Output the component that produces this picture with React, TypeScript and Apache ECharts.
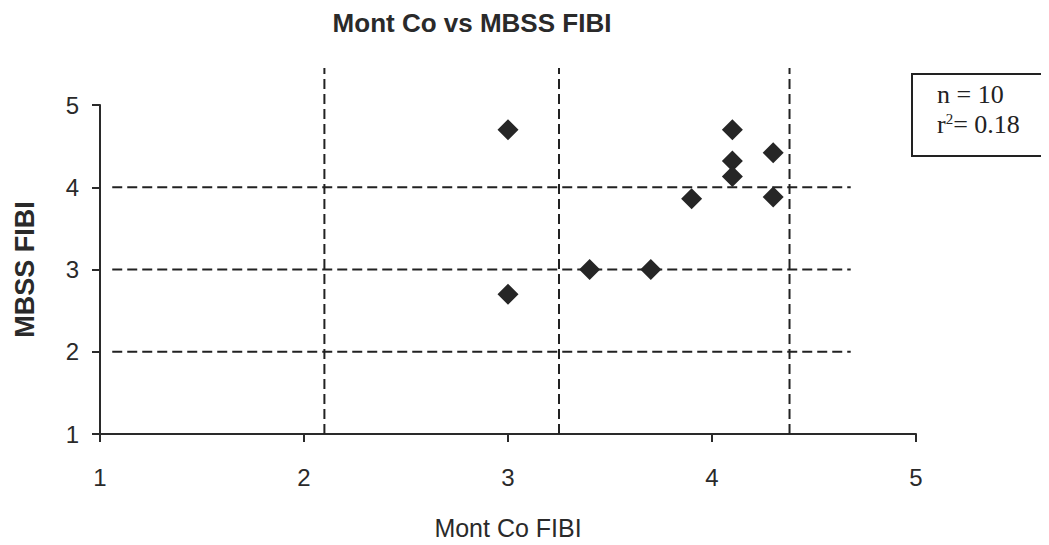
import React, { useEffect, useRef } from "react";
import * as echarts from "echarts";

const montCo = [3.0, 3.0, 3.4, 3.7, 3.9, 4.1, 4.1, 4.1, 4.3, 4.3];
const mbss = [4.7, 2.7, 3.0, 3.0, 3.86, 4.7, 4.32, 4.13, 4.42, 3.88];
const xTicks = [1, 2, 3, 4, 5];
const yTicks = [1, 2, 3, 4, 5];
const vLineX = [2.1, 3.25, 4.38];
const vLineSpan = [1, 5.45];
const hLineY = [2, 3, 4];
const hLineSpan = [1.06, 4.68];
const statN = "n = 10";
const statR2 = "0.18";

const SANS = "Arial, 'Liberation Sans', sans-serif";
const SERIF = "'Liberation Serif', 'Times New Roman', serif";

export default function App() {
  const ref = useRef<HTMLDivElement>(null);
  useEffect(() => {
    if (!ref.current) return;
    const chart = echarts.init(ref.current, undefined, { renderer: "svg" });
    const points = montCo.map((x, i) => [x, mbss[i]]);
    const dashStyle = { color: "#222", width: 2, type: [10, 5] as number[] };
    const lineSeries: any[] = [];
    vLineX.forEach((x) => {
      lineSeries.push({
        type: "line",
        data: [[x, vLineSpan[0]], [x, vLineSpan[1]]],
        symbol: "none",
        clip: false,
        lineStyle: dashStyle,
        z: 1,
        silent: true,
      });
    });
    hLineY.forEach((y) => {
      lineSeries.push({
        type: "line",
        data: [[hLineSpan[0], y], [hLineSpan[1], y]],
        symbol: "none",
        clip: false,
        lineStyle: dashStyle,
        z: 1,
        silent: true,
      });
    });
    chart.setOption({
      animation: false,
      backgroundColor: "#ffffff",
      title: {
        text: "Mont Co vs MBSS FIBI",
        left: 467,
        top: 5,
        textAlign: "center",
        textStyle: {
          fontFamily: SANS,
          fontWeight: "bold",
          fontSize: 26,
          color: "#2a2a2a",
        },
      },
      grid: { left: 100, right: 133, top: 105, bottom: 110 },
      xAxis: {
        type: "value",
        min: xTicks[0],
        max: xTicks[xTicks.length - 1],
        interval: 1,
        name: "Mont Co FIBI",
        nameLocation: "middle",
        nameGap: 81,
        nameTextStyle: {
          fontFamily: SANS,
          fontSize: 25,
          color: "#2a2a2a",
        },
        axisLine: { show: true, lineStyle: { color: "#2a2a2a", width: 2 } },
        axisTick: { show: true, length: 8, lineStyle: { color: "#2a2a2a", width: 2 } },
        axisLabel: {
          margin: 31,
          fontFamily: SANS,
          fontSize: 24,
          color: "#2a2a2a",
        },
        splitLine: { show: false },
      },
      yAxis: {
        type: "value",
        min: yTicks[0],
        max: yTicks[yTicks.length - 1],
        interval: 1,
        name: "MBSS FIBI",
        nameLocation: "middle",
        nameGap: 62,
        nameTextStyle: {
          fontFamily: SANS,
          fontWeight: "bold",
          fontSize: 27,
          color: "#2a2a2a",
        },
        axisLine: { show: true, lineStyle: { color: "#2a2a2a", width: 2 } },
        axisTick: { show: true, length: 8, lineStyle: { color: "#2a2a2a", width: 2 } },
        axisLabel: {
          margin: 21,
          fontFamily: SANS,
          fontSize: 24,
          color: "#2a2a2a",
        },
        splitLine: { show: false },
      },
      graphic: [
        {
          type: "rect",
          shape: { x: 912, y: 74, width: 134, height: 82 },
          style: { fill: "#fff", stroke: "#222", lineWidth: 2 },
          z: 10,
        },
        {
          type: "text",
          x: 937,
          y: 81,
          z: 11,
          style: {
            text: statN,
            fontFamily: SERIF,
            fontSize: 26,
            fill: "#222",
          },
        },
        {
          type: "text",
          x: 937,
          y: 111,
          z: 11,
          style: {
            text: "r{sup|2}= " + statR2,
            fontFamily: SERIF,
            fontSize: 26,
            fill: "#222",
            rich: {
              sup: {
                fontFamily: SERIF,
                fontSize: 15,
                verticalAlign: "top",
                fill: "#222",
                padding: [0, 0, 11, 0],
              },
            },
          },
        },
      ],
      series: [
        ...lineSeries,
        {
          type: "scatter",
          data: points,
          symbol: "diamond",
          symbolSize: 21,
          itemStyle: { color: "#262626", opacity: 1 },
          z: 5,
        },
      ],
    });
    return () => chart.dispose();
  }, []);
  return <div ref={ref} style={{ width: 1049, height: 545, margin: -8 }} />;
}
